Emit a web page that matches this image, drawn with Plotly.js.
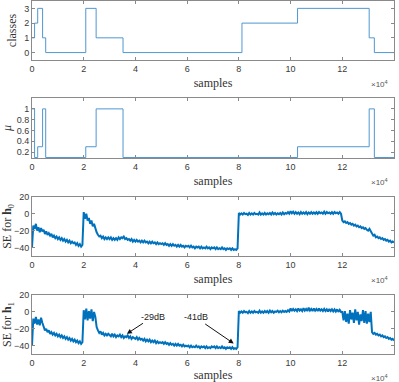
<!DOCTYPE html>
<html>
<head>
<meta charset="utf-8">
<script src="https://cdn.plot.ly/plotly-3.0.1.min.js"></script>
<style>
  html, body { margin: 0; padding: 0; background: #fff; }
  #plot { width: 399px; height: 382px; }
</style>
</head>
<body>
<div id="plot"></div>
<script>
// step signals: breakpoints in units of 1e4 samples
var stepX = [0, 0.1, 0.22, 0.41, 0.53, 2.08, 2.48, 3.52, 8.12, 10.27, 13.04, 13.24, 14];
var classes = [1, 2, 3, 1, 0, 3, 1, 0, 2, 3, 1, 0, 0];
var mu = [1, 0.1, 0.3, 1, 0.1, 0.3, 1, 0.1, 0.1, 0.3, 1, 0.1, 0.1];

// SE curves sampled every 0.05e4 samples (0 .. 14)
var seStep = 0.05;
var seH0 = [
  -40, -14, -18, -12, -20, -16, -22, -17, -21, -19, -24, -21, -25, -23, -26, -24, -28, -26, -29, -27,
  -30, -28, -31, -29, -32, -30, -33, -31, -34, -32, -35, -33, -35, -34, -37, -35, -38, -36, -39, -37,
  2, -6, 0, -8, -5, -12, -8, -15, -12, -19, -22, -25, -27, -26, -29, -27, -30, -28, -30, -28,
  -30, -28, -31, -29, -31, -29, -31, -28, -30, -28, -29, -27, -30, -29, -31, -30, -32, -30, -33, -31,
  -33, -31, -33, -32, -34, -32, -34, -32, -34, -33, -35, -33, -35, -33, -35, -34, -36, -34, -36, -35,
  -36, -35, -37, -35, -37, -36, -38, -36, -38, -36, -38, -37, -39, -37, -39, -37, -39, -38, -40, -38,
  -39, -38, -40, -38, -40, -39, -41, -39, -40, -39, -41, -39, -41, -40, -41, -39, -41, -40, -42, -40,
  -41, -40, -42, -40, -42, -41, -42, -40, -42, -41, -43, -41, -42, -41, -43, -41, -43, -42, -43, -41,
  1, -1, 0.5, -1, 1, -0.5, 0, -1.5, 1, -1, 0.5, -1, 1, -0.5, 0, -1, 1.5, -1, 0.5, -1,
  1, -1, 0.5, -0.5, 1, -1, 1.5, -0.5, 1, -1, 0.5, -0.5, 1, -1, 1.5, -0.5, 1, 0, 2, 0,
  3, 0.5, 2.5, 0, 2, 0, 1.5, -0.5, 2, 0, 1.5, 0, 2, -0.5, 1.5, 0, 2, 0, 1.5, 0,
  2, 0, 2, 0.5, 1.5, 0, 2.5, 0, 2, 0.5, 1.5, 0, 2, 0, 2, 0.5, 1.5, 0, 2, 0,
  -8, -10, -9, -11, -10, -12, -11, -13, -12, -14, -13, -15, -14, -16, -15, -17, -16, -18, -17, -19,
  -20, -18, -21, -23, -26, -25, -28, -27, -29, -28, -30, -29, -31, -30, -32, -31, -33, -32, -34, -33,
  -34
];
var seH1 = [
  -40, -8, -14, -6, -15, -9, -16, -7, -13, -18, -22, -20, -24, -22, -26, -24, -27, -25, -28, -26,
  -29, -27, -30, -28, -31, -29, -32, -30, -33, -31, -34, -32, -35, -33, -36, -34, -37, -35, -38, -36,
  2, -9, 4, -10, 1, -8, 3, -11, 0, -6, -18, -22, -25, -23, -27, -25, -28, -26, -28, -26,
  -27, -29, -26, -29, -27, -30, -28, -29, -27, -30, -28, -31, -29, -30, -28, -31, -29, -32, -30, -31,
  -32, -30, -33, -31, -33, -32, -34, -32, -35, -33, -35, -33, -36, -34, -36, -34, -37, -35, -37, -36,
  -37, -36, -38, -36, -38, -37, -39, -37, -39, -38, -40, -38, -40, -38, -40, -39, -41, -39, -41, -40,
  -41, -40, -42, -40, -42, -41, -42, -40, -42, -41, -43, -41, -42, -41, -43, -41, -43, -42, -43, -41,
  -42, -41, -43, -41, -43, -42, -43, -41, -43, -42, -44, -42, -43, -42, -44, -42, -44, -43, -44, -42,
  1, -1, 0.5, -1, 1, -0.5, 0, -1.5, 1, -1, 0.5, -1, 1, -0.5, 0, -1, 1.5, -1, 0.5, -1,
  1, -0.5, 1, -1, 1.5, -0.5, 1, -1, 0.5, 0, 1.5, -0.5, 1, -0.5, 1.5, 0, 1, 0, 2, 0.5,
  4, 1, 3.5, 1.5, 3, 1, 4, 1.5, 3, 1, 4.5, 1.5, 3.5, 1, 5, 1.5, 3.5, 1, 4, 1.5,
  3.5, 1, 4, 1.5, 3, 1, 3.5, 1, 3, 0.5, 3.5, 1, 3, 0.5, 3, 0.5, 3, 0, 2.5, 0,
  0, -10, 1, -12, -2, -14, 2, -9, -1, -13, 3, -10, 0, -15, -3, -11, 2, -13, 1, -14,
  -2, -12, 0, -24, -26, -25, -27, -26, -28, -27, -29, -28, -30, -29, -31, -30, -32, -31, -33, -32,
  -34
];

var seX = seH0.map(function (v, i) { return +(i * seStep).toFixed(2); });

var stepColor = '#4f97d0';
var bandColor = '#0072BD';
var axColor = '#8a8a8a';
var tickFont = {family: 'Liberation Sans, Arial, sans-serif', size: 9, color: '#3a3a3a'};
var titleFont = {family: 'Liberation Serif, Times New Roman, serif', size: 12, color: '#333'};

var traces = [
  {x: stepX, y: classes, xaxis: 'x', yaxis: 'y', type: 'scatter', mode: 'lines',
   line: {color: stepColor, width: 1, shape: 'hv'}},
  {x: stepX, y: mu, xaxis: 'x2', yaxis: 'y2', type: 'scatter', mode: 'lines',
   line: {color: stepColor, width: 1, shape: 'hv'}},
  {x: seX, y: seH0, xaxis: 'x3', yaxis: 'y3', type: 'scatter', mode: 'lines',
   line: {color: bandColor, width: 2}},
  {x: seX, y: seH1, xaxis: 'x4', yaxis: 'y4', type: 'scatter', mode: 'lines',
   line: {color: bandColor, width: 2}}
];

function xax(anchor) {
  return {
    anchor: anchor, domain: [0, 1], range: [0, 14], tickvals: [0, 2, 4, 6, 8, 10, 12, 14],
    showline: true, linecolor: axColor, linewidth: 1, mirror: 'ticks',
    ticks: 'inside', ticklen: 3, tickcolor: axColor, showgrid: false, zeroline: false,
    tickfont: tickFont,
    title: {text: 'samples', font: titleFont, standoff: 5}
  };
}
function yax(anchor, dom, range, tv, title) {
  return {
    anchor: anchor, domain: dom, range: range, tickvals: tv,
    showline: true, linecolor: axColor, linewidth: 1, mirror: 'ticks',
    ticks: 'inside', ticklen: 3, tickcolor: axColor, showgrid: false, zeroline: false,
    tickfont: tickFont,
    title: {text: title, font: titleFont, standoff: 4}
  };
}

var annFont = {family: 'Liberation Sans, Arial, sans-serif', size: 9, color: '#222'};
var expFont = {family: 'Liberation Sans, Arial, sans-serif', size: 8, color: '#555'};

var layout = {
  width: 399, height: 382,
  margin: {l: 32, r: 5, t: 1, b: 28},
  paper_bgcolor: '#fff', plot_bgcolor: '#fff',
  showlegend: false,
  xaxis: xax('y'),
  xaxis2: xax('y2'),
  xaxis3: xax('y3'),
  xaxis4: xax('y4'),
  yaxis: yax('x', [0.833, 1.0], [-0.5, 3.5], [0, 1, 2, 3], 'classes'),
  yaxis2: yax('x2', [0.555, 0.725], [0.09, 1.2], [0.2, 0.4, 0.6, 0.8, 1], '<i>μ</i>'),
  yaxis3: yax('x3', [0.278, 0.445], [-50, 20], [-40, -20, 0, 20], 'SE for <b>h</b><sub>0</sub>'),
  yaxis4: yax('x4', [0, 0.167], [-50, 20], [-40, -20, 0, 20], 'SE for <b>h</b><sub>1</sub>'),
  annotations: [
    {xref: 'x4', yref: 'y4', x: 3.67, y: -26, ax: 26, ay: -17, text: '-29dB',
     showarrow: true, arrowhead: 2, arrowsize: 1, arrowwidth: 1, arrowcolor: '#111', font: annFont},
    {xref: 'x4', yref: 'y4', x: 7.8, y: -37.5, ax: -38, ay: -26, text: '-41dB',
     showarrow: true, arrowhead: 2, arrowsize: 1, arrowwidth: 1, arrowcolor: '#111', font: annFont}
  ]
};

var expY = [0.833, 0.555, 0.278, 0];
['x', 'x2', 'x3', 'x4'].forEach(function (xr, i) {
  layout.annotations.push({
    xref: 'paper', yref: 'paper', x: 1, y: expY[i], yshift: -17, xshift: -4,
    xanchor: 'right', yanchor: 'top',
    text: '×10<sup>4</sup>', showarrow: false, font: expFont
  });
});

Plotly.newPlot('plot', traces, layout, {displayModeBar: false, staticPlot: true});
</script>
</body>
</html>
